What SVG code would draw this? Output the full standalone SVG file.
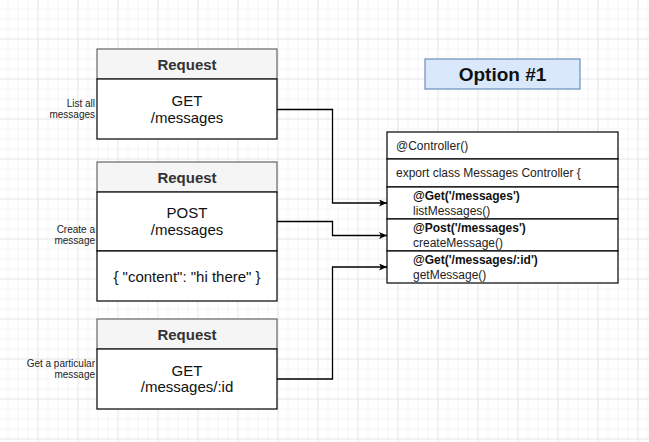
<svg xmlns="http://www.w3.org/2000/svg" width="649" height="442" viewBox="0 0 649 442">
<style>
  text { font-family: "Liberation Sans", Arial, sans-serif; fill: #111; }
  .hdr { fill: #f5f5f5; stroke: #666666; stroke-width: 1.2; }
  .box { fill: #ffffff; stroke: #000000; stroke-width: 1.2; }
  .htxt { font-size: 15px; font-weight: bold; fill: #333; text-anchor: middle; }
  .btxt { font-size: 15px; text-anchor: middle; }
  .lbl { font-size: 10px; text-anchor: end; fill: #222; }
  .ctxt { font-size: 12px; fill: #222; }
  .ctxtb { font-size: 12px; font-weight: bold; fill: #111; }
  .conn { fill: none; stroke: #000; stroke-width: 1.3; }
</style>
<defs>
  <pattern id="grid" width="40" height="40" patternUnits="userSpaceOnUse" x="37.5" y="38.5">
    <path d="M10.5 0V40M20.5 0V40M30.5 0V40M0 10.5H40M0 20.5H40M0 30.5H40" stroke="#f4f4f4" stroke-width="1"/>
    <path d="M0.5 0V40M0 0.5H40" stroke="#e4e4e4" stroke-width="1"/>
  </pattern>
  <marker id="arr" markerUnits="userSpaceOnUse" markerWidth="10" markerHeight="8" refX="8" refY="3.5" orient="auto">
    <path d="M0 0L8 3.5L0 7L2 3.5Z" fill="#000"/>
  </marker>
</defs>
<rect x="0" y="0" width="649" height="442" fill="#ffffff"/>
<rect x="0" y="0" width="649" height="442" fill="url(#grid)"/>

<g id="option1">
  <rect x="425" y="59" width="155" height="30" fill="#dae8fc" stroke="#6c8ebf" stroke-width="1.2"/>
  <text x="502.5" y="80.5" font-size="19" font-weight="bold" text-anchor="middle" style="fill:#111">Option #1</text>
</g>

<g id="request1">
  <rect class="hdr" x="97" y="49" width="180" height="30"/>
  <text class="htxt" x="187" y="70">Request</text>
  <rect class="box" x="97" y="79" width="180" height="60"/>
  <text class="btxt" x="187" y="106">GET</text>
  <text class="btxt" x="187" y="123">/messages</text>
  <text class="lbl" x="95" y="106.5">List all</text>
  <text class="lbl" x="95" y="118">messages</text>
</g>

<g id="request2">
  <rect class="hdr" x="97" y="162" width="180" height="30"/>
  <text class="htxt" x="187" y="182.5">Request</text>
  <rect class="box" x="97" y="192" width="180" height="59"/>
  <text class="btxt" x="187" y="218">POST</text>
  <text class="btxt" x="187" y="235">/messages</text>
  <rect class="box" x="97" y="251" width="180" height="50"/>
  <text class="btxt" x="187" y="281.5">{ "content": "hi there" }</text>
  <text class="lbl" x="95" y="232.5">Create a</text>
  <text class="lbl" x="95" y="244">message</text>
</g>

<g id="request3">
  <rect class="hdr" x="97" y="319" width="180" height="30"/>
  <text class="htxt" x="187" y="340">Request</text>
  <rect class="box" x="97" y="349" width="180" height="60"/>
  <text class="btxt" x="187" y="375.5">GET</text>
  <text class="btxt" x="187" y="392">/messages/:id</text>
  <text class="lbl" x="95" y="366.5">Get a particular</text>
  <text class="lbl" x="95" y="378">message</text>
</g>

<g id="controller">
  <rect class="box" x="387" y="132" width="231" height="27"/>
  <text class="ctxt" x="396" y="149.5">@Controller()</text>
  <rect class="box" x="387" y="159" width="231" height="28"/>
  <text class="ctxt" x="396" y="177">export class Messages Controller {</text>
  <rect class="box" x="387" y="187" width="231" height="32"/>
  <text class="ctxtb" x="413" y="200">@Get('/messages')</text>
  <text class="ctxt" x="413" y="214.5">listMessages()</text>
  <rect class="box" x="387" y="219" width="231" height="32"/>
  <text class="ctxtb" x="413" y="232">@Post('/messages')</text>
  <text class="ctxt" x="413" y="247">createMessage()</text>
  <rect class="box" x="387" y="251" width="231" height="32"/>
  <text class="ctxtb" x="413" y="263.5">@Get('/messages/:id')</text>
  <text class="ctxt" x="413" y="278.5">getMessage()</text>
</g>

<g id="connectors">
  <path class="conn" d="M277 109.5H332.5V203H387" marker-end="url(#arr)"/>
  <path class="conn" d="M277 221.5H332.5V235.5H387" marker-end="url(#arr)"/>
  <path class="conn" d="M277 379H332.5V267H387" marker-end="url(#arr)"/>
</g>
</svg>
